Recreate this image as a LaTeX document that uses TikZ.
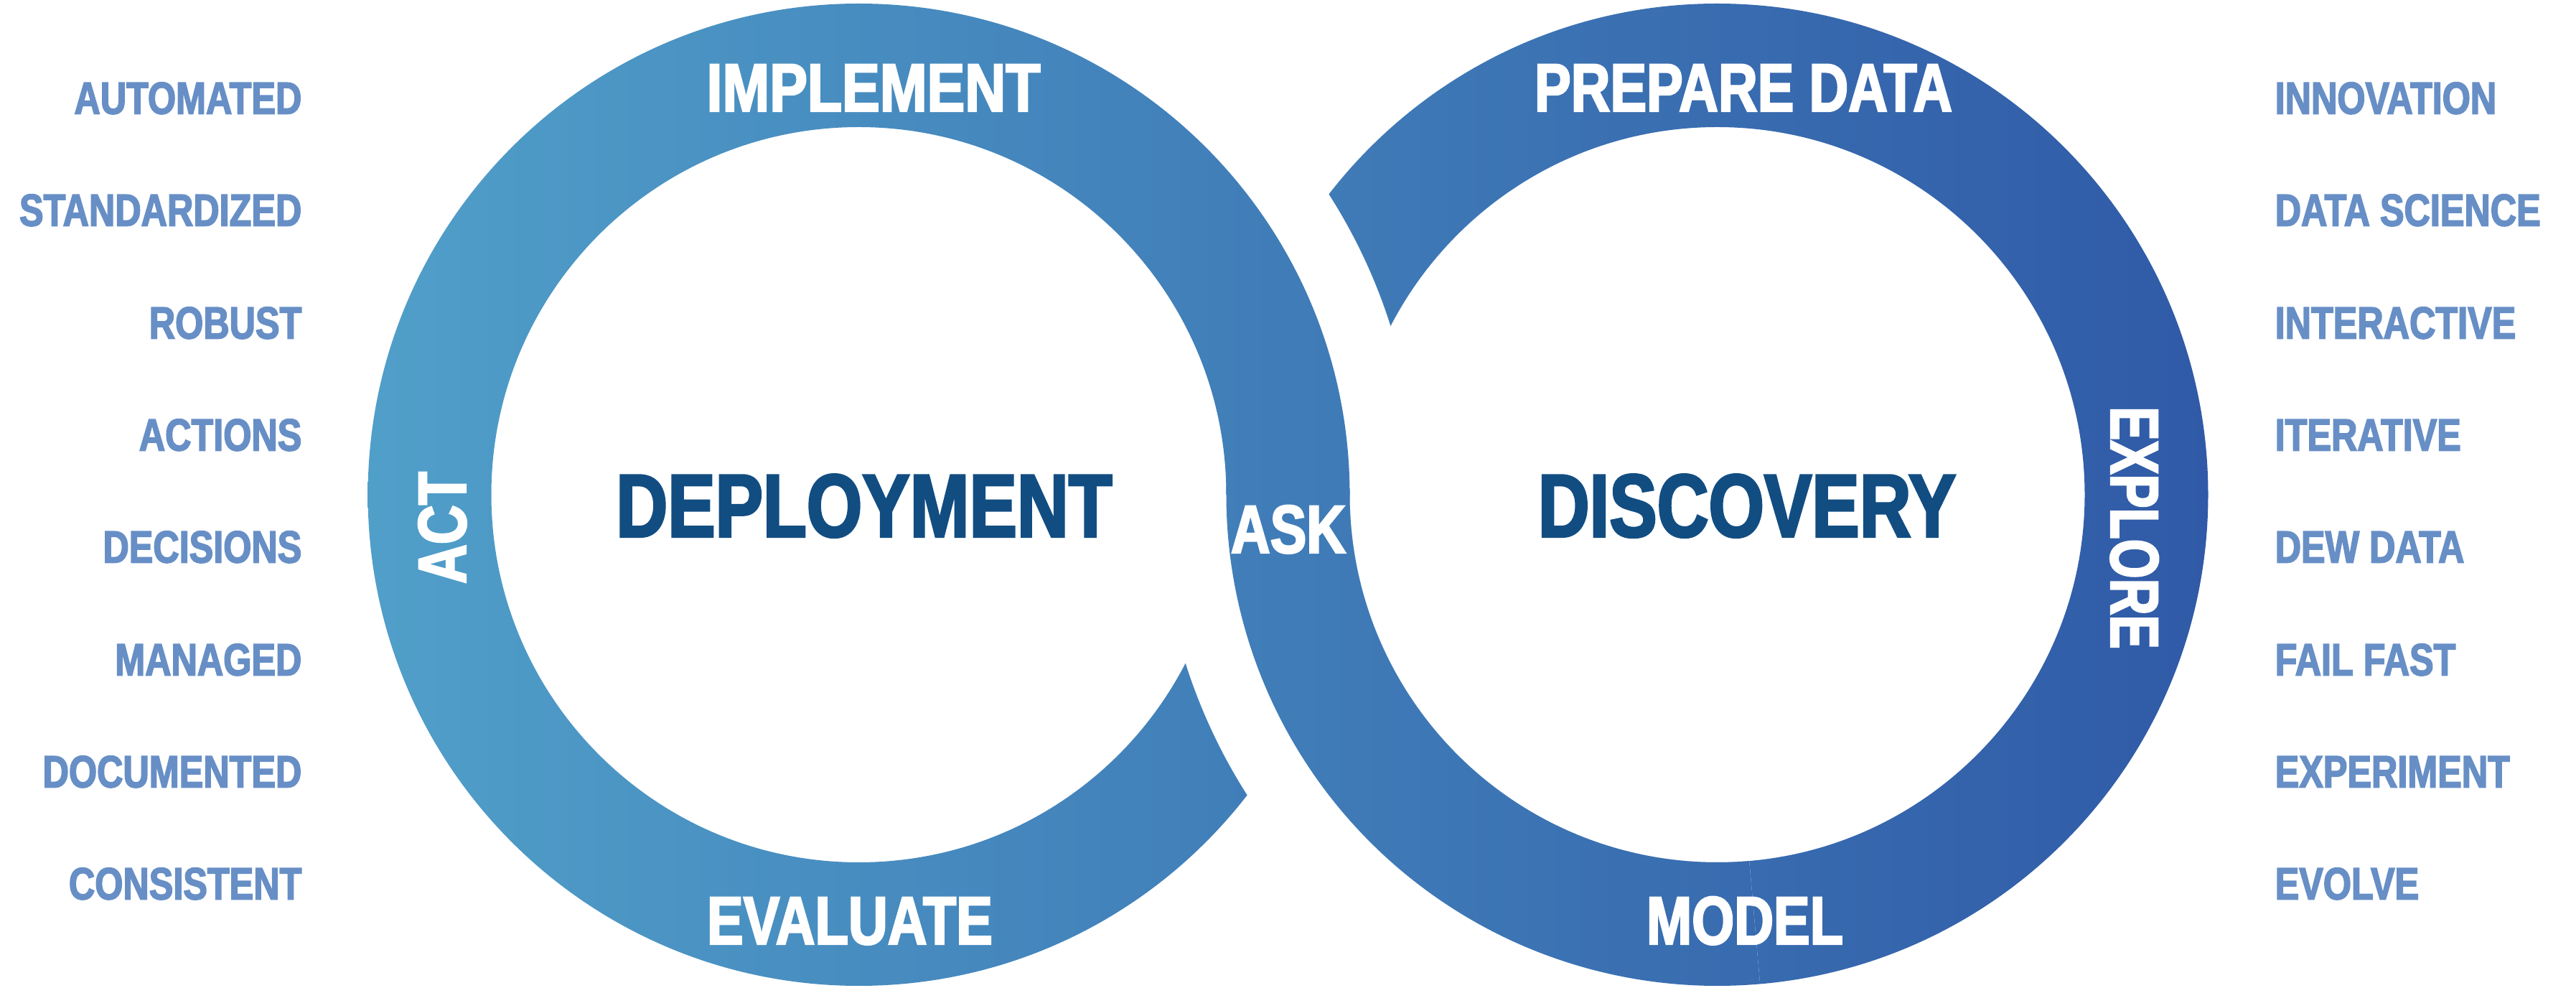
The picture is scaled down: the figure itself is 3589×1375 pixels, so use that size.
\documentclass[tikz,border=0pt]{standalone}
\usepackage{fontspec}
\usetikzlibrary{calc}
\newfontfamily\cond[FakeStretch=0.80,FakeBold=2.5]{Liberation Sans}
\definecolor{gL}{RGB}{80,159,201}
\definecolor{gR}{RGB}{48,90,167}
\definecolor{sideC}{RGB}{103,143,198}
\definecolor{titleC}{RGB}{18,77,130}
\tikzset{
  sideword/.style={font=\cond\bfseries\fontsize{17.9pt}{20pt}\selectfont, text=sideC, inner sep=0pt, text height=12.8pt, text depth=0pt},
  bigtitle/.style={font=\cond\bfseries\fontsize{35.4pt}{40pt}\selectfont, text=titleC, inner sep=0pt, text height=25.3pt, text depth=0pt},
  bandlabel/.style={font=\cond\bfseries\fontsize{27pt}{30pt}\selectfont, text=white, inner sep=0pt, text height=19.35pt, text depth=0pt},
  gradfill/.style={left color=gL, right color=gR}
}
\newcommand\gradpath[1]{\begin{scope}\clip #1;\shade[gradfill] (512,0) rectangle (3077,1375);\end{scope}}
\begin{document}
\begin{tikzpicture}[x=0.1mm,y=0.1mm]
\useasboundingbox (0,0) rectangle (3589,1375);
\coordinate (Lc) at (1196.5,686);
\coordinate (Rc) at (2392.5,686);
% 1 right ring
\gradpath{(3076.5,686) arc[start angle=0,end angle=360,radius=684] -- (2904.5,686) arc[start angle=360,end angle=0,radius=512] -- cycle}
% 2 halo of left ring (upper right)
\fill[white] (1973.5,686) arc[start angle=0,end angle=90,radius=777] -- ($(Lc)+(90:512)$) arc[start angle=90,end angle=0,radius=512] -- cycle;
% 3 left ring
\gradpath{(1880.5,686) arc[start angle=0,end angle=360,radius=684] -- (1708.5,686) arc[start angle=360,end angle=0,radius=512] -- cycle}
% 4 halo of right ring (lower left)
\fill[white] (1615.5,686) arc[start angle=180,end angle=275,radius=777] -- ($(Rc)+(275:512)$) arc[start angle=275,end angle=180,radius=512] -- cycle;
% 5 right ring lower-left again
\gradpath{($(Rc)+(179:684)$) arc[start angle=179,end angle=275,radius=684] -- ($(Rc)+(275:512)$) arc[start angle=275,end angle=179,radius=512] -- cycle}
% texts
\node[sideword,anchor=east] (l1) at (421,1239) {AUTOMATED};
\node[sideword,anchor=east] (l2) at (421,1083) {STANDARDIZED};
\node[sideword,anchor=east] (l3) at (421,926) {ROBUST};
\node[sideword,anchor=east] (l4) at (421,770) {ACTIONS};
\node[sideword,anchor=east] (l5) at (421,614) {DECISIONS};
\node[sideword,anchor=east] (l6) at (421,457) {MANAGED};
\node[sideword,anchor=east] (l7) at (421,301) {DOCUMENTED};
\node[sideword,anchor=east] (l8) at (421,145) {CONSISTENT};
\node[sideword,anchor=west] (r1) at (3169,1239) {INNOVATION};
\node[sideword,anchor=west] (r2) at (3169,1083) {DATA SCIENCE};
\node[sideword,anchor=west] (r3) at (3169,926) {INTERACTIVE};
\node[sideword,anchor=west] (r4) at (3169,770) {ITERATIVE};
\node[sideword,anchor=west] (r5) at (3169,614) {DEW DATA};
\node[sideword,anchor=west] (r6) at (3169,457) {FAIL FAST};
\node[sideword,anchor=west] (r7) at (3169,301) {EXPERIMENT};
\node[sideword,anchor=west] (r8) at (3169,145) {EVOLVE};
\node[bigtitle] (dep) at (1204,672) {DEPLOYMENT};
\node[bigtitle] (dis) at (2434,672) {DISCOVERY};
\node[bandlabel] (impl) at (1217,1254) {\scalebox{1.04}[1]{IMPLEMENT}};
\node[bandlabel] (prep) at (2429,1254) {PREPARE DATA};
\node[bandlabel] (eval) at (1184,94) {EVALUATE};
\node[bandlabel] (model) at (2431,94) {MODEL};
\node[bandlabel,rotate=90] (act) at (615,640) {ACT};
\node[bandlabel,rotate=-90] (expl) at (2975,640) {\scalebox{0.93}[1]{EXPLORE}};
\node[bandlabel] (ask) at (1795,639) {ASK};
\end{tikzpicture}
\end{document}
